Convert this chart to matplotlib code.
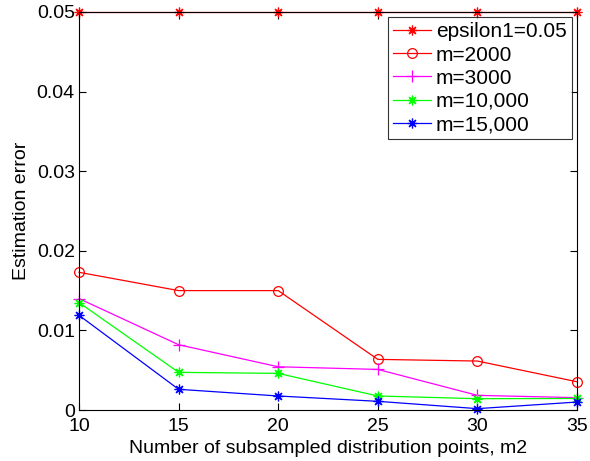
import matplotlib
matplotlib.use("Agg")
import matplotlib.pyplot as plt

plt.rcParams['font.family'] = ['Liberation Sans', 'DejaVu Sans']

m2 = [10, 15, 20, 25, 30, 35]
eps1 = [0.05, 0.05, 0.05, 0.05, 0.05, 0.05]
m_2000 = [0.0173, 0.0150, 0.0150, 0.00636, 0.00615, 0.00355]
m_3000 = [0.0140, 0.0082, 0.00543, 0.0051, 0.00184, 0.00155]
m_10000 = [0.0135, 0.00473, 0.0046, 0.00176, 0.00142, 0.00145]
m_15000 = [0.0119, 0.0026, 0.00176, 0.00109, 0.00017, 0.0010]

fig = plt.figure(figsize=(5.9, 4.61), dpi=100)
ax = fig.add_axes([79 / 590, (461 - 410) / 461, (577 - 79) / 590, (410 - 12) / 461])

# asterisk marker: eight arms, like '+' and 'x' overlaid
star = (8, 2, 0)
lw = 0.9
ax.plot(m2, eps1, color='#ff0000', marker=star, ms=7, mew=0.9, lw=lw, label='epsilon1=0.05', clip_on=False)
ax.plot(m2, m_2000, color='#ff0000', marker='o', ms=7, mfc='none', mew=0.9, lw=lw, label='m=2000', clip_on=False)
ax.plot(m2, m_3000, color='#ff00ff', marker='+', ms=8, mew=0.9, lw=lw, label='m=3000', clip_on=False)
ax.plot(m2, m_10000, color='#00ff00', marker=star, ms=7, mew=0.9, lw=lw, label='m=10,000', clip_on=False)
ax.plot(m2, m_15000, color='#0000ff', marker=star, ms=7, mew=0.9, lw=lw, label='m=15,000', clip_on=False)

ax.set_xlim(10, 35)
ax.set_ylim(0, 0.05)
ax.set_xticks([10, 15, 20, 25, 30, 35])
ax.set_yticks([0, 0.01, 0.02, 0.03, 0.04, 0.05])
ax.set_yticklabels(['0', '0.01', '0.02', '0.03', '0.04', '0.05'])
ax.tick_params(direction='in', top=True, right=True, labelsize=14, length=5, width=0.8)
ax.tick_params(axis='x', pad=6)
ax.tick_params(axis='y', pad=3)
for s in ax.spines.values():
    s.set_linewidth(0.8)

ax.set_xlabel('Number of subsampled distribution points, m2', fontsize=14, labelpad=3)
ax.set_ylabel('Estimation error', fontsize=14, labelpad=5)

leg = ax.legend(loc='upper right', fontsize=15, frameon=True, fancybox=False,
                edgecolor='black', borderaxespad=0.25, handlelength=1.8,
                labelspacing=0.2, borderpad=0.25, handletextpad=0.25)
leg.get_frame().set_linewidth(0.8)

fig.savefig('out.png', dpi=100)
